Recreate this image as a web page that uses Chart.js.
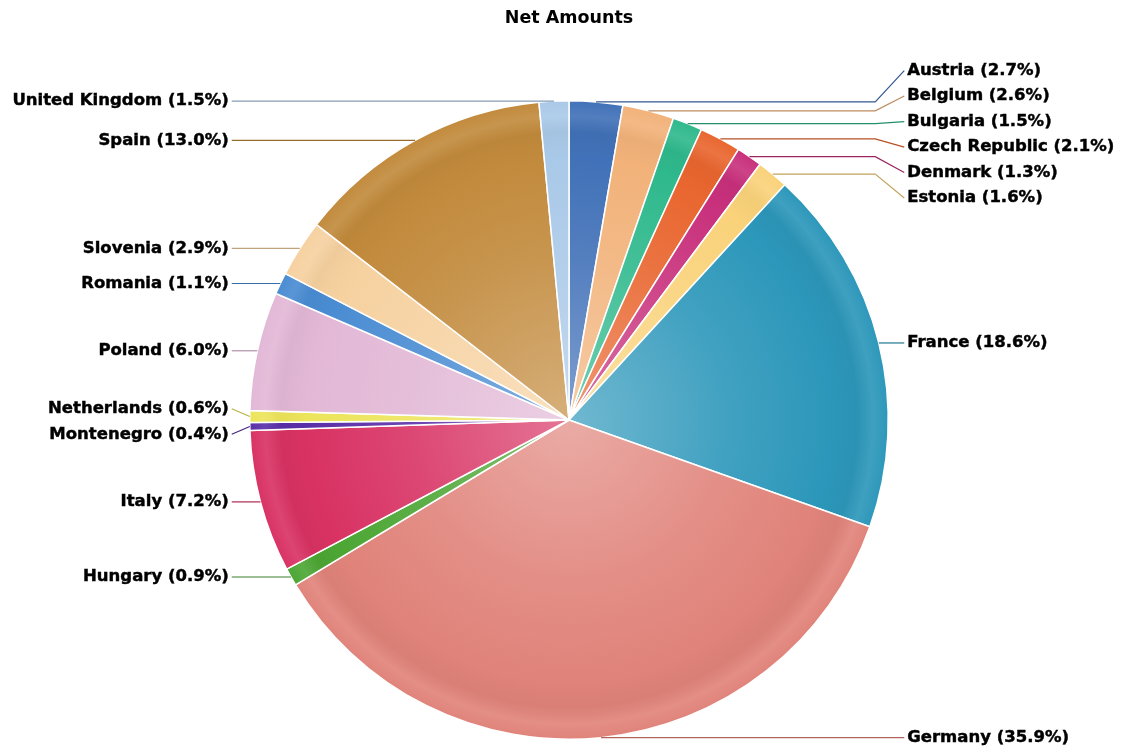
<!DOCTYPE html>
<html>
<head>
<meta charset="utf-8">
<title>Net Amounts</title>
<script src="https://cdn.jsdelivr.net/npm/chart.js@4.4.1/dist/chart.umd.min.js"></script>
<style>
  html, body { margin: 0; padding: 0; background: #ffffff; }
  #wrap { width: 1127px; height: 753px; position: relative; }
</style>
</head>
<body>
<div id="wrap"><canvas id="netChart"></canvas></div>
<script>
// ----- Data -----
const countries = [
  'Austria', 'Belgium', 'Bulgaria', 'Czech Republic', 'Denmark', 'Estonia',
  'France', 'Germany', 'Hungary', 'Italy', 'Montenegro', 'Netherlands',
  'Poland', 'Romania', 'Slovenia', 'Spain', 'United Kingdom'
];

const shares = [2.7, 2.6, 1.5, 2.1, 1.3, 1.6, 18.6, 35.9, 0.9, 7.2, 0.4, 0.6, 6.0, 1.1, 2.9, 13.0, 1.5];

const sliceColors = [
  '#4171b8', '#f2b27a', '#2fb98c', '#e9662f', '#c8307c', '#f9d27a',
  '#2c97ba', '#e0837a', '#4ca634', '#d83263', '#5a2ea8', '#ece45a',
  '#e2b8d6', '#4a8cd2', '#f6d1a0', '#c28a3c', '#a9c9e8'
];

const FONT = '"DejaVu Sans", Verdana, sans-serif';

// ----- Colour helpers -----
function hexRgb(hex) {
  const n = parseInt(hex.slice(1), 16);
  return [(n >> 16) & 255, (n >> 8) & 255, n & 255];
}
function mix(hex, target, t) {
  const c = hexRgb(hex);
  const m = c.map((v, i) => Math.round(v + (target[i] - v) * t));
  return `rgb(${m[0]},${m[1]},${m[2]})`;
}
const lighten = (hex, t) => mix(hex, [255, 255, 255], t);
const darken = (hex, t) => mix(hex, [0, 0, 0], t);

// radial shading: light centre, soft rim highlight near the edge
function sliceFill(ctx) {
  const base = sliceColors[ctx.dataIndex];
  const area = ctx.chart.chartArea;
  if (!area) return base;
  const cx = (area.left + area.right) / 2;
  const cy = (area.top + area.bottom) / 2;
  const r = Math.min(area.right - area.left, area.bottom - area.top) / 2;
  const g = ctx.chart.ctx.createRadialGradient(cx, cy, 0, cx, cy, r);
  g.addColorStop(0, lighten(base, 0.32));
  g.addColorStop(0.5, lighten(base, 0.1));
  g.addColorStop(0.82, base);
  g.addColorStop(0.9, darken(base, 0.03));
  g.addColorStop(0.95, lighten(base, 0.09));
  g.addColorStop(1, base);
  return g;
}

// ----- Outside labels with connectors -----
function spread(items, gap) {
  items.sort((a, b) => a.want - b.want);
  const groups = items.map(it => ({ list: [it] }));
  const top = grp => {
    const mean = grp.list.reduce((s, it) => s + it.want, 0) / grp.list.length;
    return mean - (grp.list.length - 1) * gap / 2;
  };
  let merged = true;
  while (merged) {
    merged = false;
    for (let i = 0; i < groups.length - 1; i++) {
      const a = groups[i], b = groups[i + 1];
      if (top(a) + a.list.length * gap > top(b)) {
        a.list = a.list.concat(b.list);
        groups.splice(i + 1, 1);
        merged = true;
        break;
      }
    }
  }
  groups.forEach(grp => {
    const t = top(grp);
    grp.list.forEach((it, k) => { it.y = t + k * gap; });
  });
}

function drawLabel(c, text, x, y) {
  c.fillStyle = '#000000';
  c.strokeStyle = '#000000';
  c.lineWidth = 0.45;
  c.strokeText(text, x, y);
  c.fillText(text, x, y);
}

const pieLabels = {
  id: 'pieLabels',
  afterDatasetsDraw(chart) {
    const meta = chart.getDatasetMeta(0);
    const c = chart.ctx;
    const left = [], right = [];
    meta.data.forEach((arc, i) => {
      const mid = (arc.startAngle + arc.endAngle) / 2;
      const r = arc.outerRadius;
      const ex = arc.x + Math.cos(mid) * r;
      const ey = arc.y + Math.sin(mid) * r;
      const item = { i, ex, ey, want: ey, cx: arc.x, r };
      (Math.cos(mid) >= 0 ? right : left).push(item);
    });
    spread(right, 25.5);
    spread(left, 25.5);

    c.save();
    c.font = `bold 16.5px ${FONT}`;
    c.textBaseline = 'middle';

    right.forEach(it => {
      const tx = it.cx + it.r + 19;
      const bend = Math.max(it.ex, tx - 32);
      c.strokeStyle = darken(sliceColors[it.i], 0.22);
      c.lineWidth = 1.2;
      c.beginPath();
      c.moveTo(tx - 3, it.y);
      c.lineTo(bend, it.ey);
      c.lineTo(it.ex, it.ey);
      c.stroke();
      c.textAlign = 'left';
      drawLabel(c, `${countries[it.i]} (${shares[it.i].toFixed(1)}%)`, tx, it.y);
    });

    left.forEach(it => {
      const tx = it.cx - it.r - 21;
      const bend = Math.min(it.ex, tx + 32);
      c.strokeStyle = darken(sliceColors[it.i], 0.22);
      c.lineWidth = 1.2;
      c.beginPath();
      c.moveTo(tx + 3, it.y);
      c.lineTo(bend, it.ey);
      c.lineTo(it.ex, it.ey);
      c.stroke();
      c.textAlign = 'right';
      drawLabel(c, `${countries[it.i]} (${shares[it.i].toFixed(1)}%)`, tx, it.y);
    });
    c.restore();
  }
};

// ----- Chart -----
new Chart(document.getElementById('netChart'), {
  type: 'pie',
  data: {
    labels: countries,
    datasets: [{
      data: shares,
      backgroundColor: sliceFill,
      borderColor: '#ffffff',
      borderWidth: 1.5
    }]
  },
  options: {
    responsive: true,
    maintainAspectRatio: false,
    animation: false,
    layout: { padding: { left: 249, right: 238, top: 0, bottom: 12 } },
    plugins: {
      legend: { display: false },
      tooltip: { enabled: false },
      title: {
        display: true,
        text: 'Net Amounts',
        color: '#000000',
        font: { family: FONT, size: 17.5, weight: 'bold', lineHeight: 1.2 },
        padding: { top: 8, bottom: 70 }
      }
    }
  },
  plugins: [pieLabels]
});
</script>
</body>
</html>
